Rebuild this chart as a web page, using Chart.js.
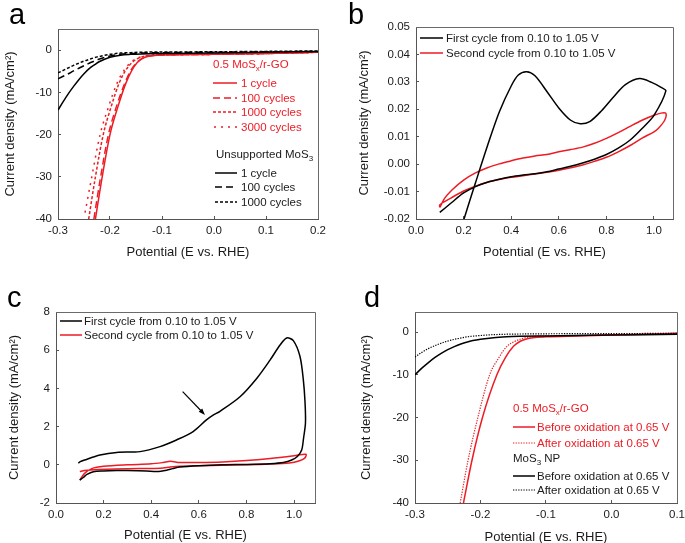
<!DOCTYPE html>
<html><head><meta charset="utf-8">
<script src="https://cdn.jsdelivr.net/npm/chart.js@4.4.1/dist/chart.umd.min.js"></script>
<style>
html,body{margin:0;padding:0;width:685px;height:543px;overflow:hidden;background:#fff;font-family:"Liberation Sans",Arial,Helvetica,sans-serif;position:relative}
canvas{position:absolute}
.pl{position:absolute;font-size:29px;line-height:29px;color:#000}
.lg{position:absolute;font-size:11.5px;line-height:14px;white-space:nowrap;color:#1a1a1a}
.r{color:#ED1C24}
.lg sub{font-size:8px;vertical-align:-3px;line-height:0}
svg{position:absolute;overflow:visible}
</style></head><body>
<canvas id="ca" width="340" height="270" style="left:0;top:0"></canvas>
<canvas id="cb" width="345" height="270" style="left:340px;top:0"></canvas>
<canvas id="cc" width="340" height="270" style="left:0;top:275px"></canvas>
<canvas id="cd" width="370" height="270" style="left:340px;top:275px"></canvas>

<div class="pl" style="left:9px;top:0px">a</div>
<div class="pl" style="left:348px;top:0px">b</div>
<div class="pl" style="left:7px;top:283px">c</div>
<div class="pl" style="left:364px;top:283px">d</div>

<!-- legend a -->
<div class="lg r" style="left:213px;top:57px">0.5 MoS<sub>x</sub>/r-GO</div>
<svg style="left:213px;top:83px" width="24" height="1"><line x1="0" y1="0" x2="24" y2="0" stroke="#ED1C24" stroke-width="1.5"/></svg>
<div class="lg r" style="left:241px;top:76px">1 cycle</div>
<svg style="left:213px;top:98px" width="24" height="1"><line x1="0" y1="0" x2="24" y2="0" stroke="#ED1C24" stroke-width="1.5" stroke-dasharray="7 4"/></svg>
<div class="lg r" style="left:241px;top:91px">100 cycles</div>
<svg style="left:213px;top:112px" width="24" height="1"><line x1="0" y1="0" x2="24" y2="0" stroke="#ED1C24" stroke-width="1.5" stroke-dasharray="3 2"/></svg>
<div class="lg r" style="left:241px;top:105px">1000 cycles</div>
<svg style="left:213px;top:127px" width="24" height="1"><line x1="1" y1="0" x2="24" y2="0" stroke="#ED1C24" stroke-width="1.5" stroke-dasharray="2 5"/></svg>
<div class="lg r" style="left:241px;top:120px">3000 cycles</div>
<div class="lg" style="left:216px;top:147px">Unsupported MoS<sub>3</sub></div>
<svg style="left:215px;top:173px" width="22" height="1"><line x1="0" y1="0" x2="22" y2="0" stroke="#000" stroke-width="1.5"/></svg>
<div class="lg" style="left:241px;top:166px">1 cycle</div>
<svg style="left:215px;top:187px" width="22" height="1"><line x1="0" y1="0" x2="22" y2="0" stroke="#000" stroke-width="1.5" stroke-dasharray="7 4"/></svg>
<div class="lg" style="left:241px;top:180px">100 cycles</div>
<svg style="left:215px;top:202px" width="22" height="1"><line x1="0" y1="0" x2="22" y2="0" stroke="#000" stroke-width="1.5" stroke-dasharray="3 2"/></svg>
<div class="lg" style="left:241px;top:195px">1000 cycles</div>

<!-- legend b -->
<svg style="left:420px;top:38px" width="23" height="1"><line x1="0" y1="0" x2="23" y2="0" stroke="#000" stroke-width="1.5"/></svg>
<div class="lg" style="left:446px;top:31px">First cycle from 0.10 to 1.05 V</div>
<svg style="left:420px;top:53px" width="23" height="1"><line x1="0" y1="0" x2="23" y2="0" stroke="#ED1C24" stroke-width="1.5"/></svg>
<div class="lg" style="left:446px;top:46px">Second cycle from 0.10 to 1.05 V</div>

<!-- legend c -->
<svg style="left:60px;top:321px" width="22" height="1"><line x1="0" y1="0" x2="22" y2="0" stroke="#000" stroke-width="1.5"/></svg>
<div class="lg" style="left:84px;top:314px">First cycle from 0.10 to 1.05 V</div>
<svg style="left:60px;top:335px" width="22" height="1"><line x1="0" y1="0" x2="22" y2="0" stroke="#ED1C24" stroke-width="1.5"/></svg>
<div class="lg" style="left:84px;top:328px">Second cycle from 0.10 to 1.05 V</div>

<!-- legend d -->
<div class="lg r" style="left:513px;top:401px">0.5 MoS<sub>x</sub>/r-GO</div>
<svg style="left:513px;top:427px" width="22" height="1"><line x1="0" y1="0" x2="22" y2="0" stroke="#ED1C24" stroke-width="1.5"/></svg>
<div class="lg r" style="left:537px;top:420px">Before oxidation at 0.65 V</div>
<svg style="left:513px;top:443px" width="22" height="1"><line x1="0" y1="0" x2="22" y2="0" stroke="#ED1C24" stroke-width="1.2" stroke-dasharray="1.3 1.3"/></svg>
<div class="lg r" style="left:537px;top:436px">After oxidation at 0.65 V</div>
<div class="lg" style="left:513px;top:451px">MoS<sub>3</sub> NP</div>
<svg style="left:513px;top:476px" width="22" height="1"><line x1="0" y1="0" x2="22" y2="0" stroke="#000" stroke-width="1.5"/></svg>
<div class="lg" style="left:537px;top:469px">Before oxidation at 0.65 V</div>
<svg style="left:513px;top:490px" width="22" height="1"><line x1="0" y1="0" x2="22" y2="0" stroke="#000" stroke-width="1.2" stroke-dasharray="1.3 1.3"/></svg>
<div class="lg" style="left:537px;top:483px">After oxidation at 0.65 V</div>

<script>
// ---------------- DATA ----------------
// Panel a: LSV, MoSx/r-GO (red) and unsupported MoS3 (black)
const aTicksX = [-0.3, -0.2, -0.1, 0.0, 0.1, 0.2];
const aTicksY = [-40, -30, -20, -10, 0];
const aRed1X    = [-0.228,-0.215,-0.2,-0.185,-0.17,-0.158,-0.148,-0.138,-0.128,-0.115,-0.1,0,0.1,0.2];
const aRed1Y    = [-40,-30,-20,-13.5,-8,-4.8,-3.0,-2.0,-1.5,-1.25,-1.15,-1.0,-0.8,-0.5];
const aRed100X  = [-0.231,-0.218,-0.203,-0.188,-0.172,-0.16,-0.149,-0.139,-0.129,-0.115,-0.1,0,0.1,0.2];
const aRed100Y  = [-40,-30,-20,-13.5,-8,-4.8,-3.0,-2.0,-1.5,-1.25,-1.15,-1.0,-0.8,-0.5];
const aRed1000X = [-0.241,-0.228,-0.213,-0.198,-0.183,-0.17,-0.158,-0.147,-0.136,-0.12,-0.1,0,0.1,0.2];
const aRed1000Y = [-40,-30,-20,-13.5,-8,-4.8,-3.0,-2.0,-1.5,-1.25,-1.15,-1.0,-0.8,-0.5];
const aRed3000X = [-0.248,-0.235,-0.219,-0.203,-0.187,-0.173,-0.161,-0.149,-0.137,-0.12,-0.1,0,0.1,0.2];
const aRed3000Y = [-38.5,-30,-20,-13.5,-8,-4.8,-3.0,-2.0,-1.5,-1.25,-1.15,-1.0,-0.8,-0.5];
const aBlkX     = [-0.3,-0.29,-0.28,-0.27,-0.26,-0.25,-0.24,-0.23,-0.22,-0.2,-0.18,-0.16,-0.14,-0.1,0,0.1,0.2];
const aBlk1Y    = [-14.2,-12.2,-10.3,-8.6,-7.0,-5.6,-4.4,-3.5,-2.7,-1.7,-1.2,-1.0,-0.9,-0.8,-0.7,-0.5,-0.3];
const aBlk100Y  = [-6.8,-6.2,-5.6,-4.9,-4.3,-3.7,-3.1,-2.6,-2.1,-1.4,-1.0,-0.8,-0.7,-0.6,-0.5,-0.4,-0.3];
const aBlk1000Y = [-5.4,-4.8,-4.2,-3.6,-3.1,-2.6,-2.2,-1.8,-1.5,-1.0,-0.7,-0.6,-0.5,-0.45,-0.4,-0.3,-0.2];

// Panel b: CV of MoSx/r-GO, first (black) and second (red) cycle
const bTicksX = [0.0, 0.2, 0.4, 0.6, 0.8, 1.0];
const bTicksY = [-0.02, -0.01, 0.0, 0.01, 0.02, 0.03, 0.04, 0.05];
const bFirstX = [0.185,0.2,0.25,0.3,0.35,0.4,0.43,0.465,0.5,0.55,0.6,0.65,0.69,0.73,0.78,0.83,0.88,0.94,0.99,1.03,1.05,
                 1.0,0.95,0.9,0.85,0.8,0.75,0.7,0.65,0.6,0.55,0.5,0.45,0.4,0.35,0.3,0.25,0.2,0.15,0.1];
const bFirstY = [-0.025,-0.0205,-0.0068,0.0066,0.019,0.0285,0.0325,0.0337,0.0322,0.0265,0.0205,0.016,0.0147,0.0155,0.0195,0.0245,0.029,0.0312,0.0298,0.028,0.0267,
                 0.0178,0.013,0.0088,0.0058,0.0035,0.0018,0.0004,-0.0008,-0.0018,-0.0028,-0.0035,-0.004,-0.0046,-0.0055,-0.0066,-0.0082,-0.0105,-0.014,-0.0176];
const bSecondX = [0.1,0.12,0.15,0.2,0.25,0.3,0.35,0.4,0.45,0.5,0.55,0.6,0.65,0.7,0.75,0.8,0.85,0.9,0.95,1.0,1.03,1.05,
                  1.045,1.02,1.0,0.95,0.9,0.85,0.8,0.75,0.7,0.65,0.6,0.55,0.5,0.45,0.4,0.35,0.3,0.25,0.2,0.15,0.1,0.1];
const bSecondY = [-0.0158,-0.0125,-0.0095,-0.0058,-0.0032,-0.0013,0.0001,0.0012,0.0022,0.003,0.0035,0.0045,0.0053,0.0062,0.0076,0.0094,0.0115,0.0138,0.016,0.0178,0.0186,0.0185,
                  0.016,0.0132,0.0118,0.0095,0.0068,0.0045,0.0025,0.001,-0.0003,-0.0013,-0.0022,-0.003,-0.0036,-0.0042,-0.0048,-0.0056,-0.0066,-0.008,-0.0098,-0.0122,-0.0148,-0.0158];

// Panel c: CV of unsupported MoS3
const cTicksX = [0.0, 0.2, 0.4, 0.6, 0.8, 1.0];
const cTicksY = [-2, 0, 2, 4, 6, 8];
const cFirstX = [0.094,0.1,0.12,0.185,0.255,0.353,0.437,0.506,0.576,0.632,0.66,0.689,0.773,0.843,0.899,0.941,0.969,0.997,1.025,1.039,1.046,
                 1.048,1.04,1.032,1.015,0.99,0.955,0.9,0.8,0.7,0.6,0.52,0.49,0.465,0.423,0.38,0.3,0.255,0.2,0.157,0.13,0.116,0.1];
const cFirstY = [0.08,0.15,0.25,0.51,0.65,0.69,0.95,1.3,1.74,2.35,2.6,2.8,3.56,4.52,5.48,6.27,6.64,6.5,5.67,4.45,3.3,
                 2.2,1.4,0.77,0.45,0.25,0.12,0.06,0.02,0.0,-0.05,-0.12,-0.2,-0.28,-0.35,-0.32,-0.3,-0.3,-0.32,-0.36,-0.5,-0.65,-0.8];
const cSecondX = [0.1,0.12,0.15,0.2,0.3,0.4,0.45,0.48,0.52,0.6,0.7,0.8,0.9,1.0,1.05,
                  1.045,1.02,0.98,0.9,0.8,0.7,0.6,0.52,0.48,0.44,0.35,0.25,0.18,0.12,0.1];
const cSecondY = [-0.8,-0.45,-0.2,-0.08,0.0,0.05,0.12,0.18,0.12,0.12,0.15,0.22,0.33,0.47,0.55,
                  0.35,0.2,0.1,0.04,0.0,-0.02,-0.05,-0.08,-0.12,-0.18,-0.2,-0.22,-0.25,-0.3,-0.35];
const cArrowFrom = [0.532, 3.83];
const cArrowTo   = [0.626, 2.61];

// Panel d: LSV before/after oxidation at 0.65 V
const dTicksX = [-0.3, -0.2, -0.1, 0.0, 0.1];
const dTicksY = [-40, -30, -20, -10, 0];
const dRedBeforeX = [-0.226,-0.213,-0.197,-0.175,-0.162,-0.15,-0.14,-0.13,-0.12,-0.1,-0.05,0,0.05,0.1];
const dRedBeforeY = [-40,-30,-20,-10,-6,-3.4,-2.2,-1.6,-1.3,-1.1,-0.9,-0.7,-0.5,-0.3];
const dRedAfterX  = [-0.231,-0.219,-0.204,-0.186,-0.172,-0.16,-0.148,-0.136,-0.124,-0.1,-0.05,0,0.05,0.1];
const dRedAfterY  = [-40,-30,-20,-10,-6,-3.4,-2.2,-1.5,-1.1,-0.9,-0.8,-0.6,-0.45,-0.3];
const dBlkX       = [-0.3,-0.29,-0.28,-0.27,-0.26,-0.25,-0.24,-0.23,-0.22,-0.2,-0.18,-0.16,-0.14,-0.1,0,0.1];
const dBlkBeforeY = [-10,-8.5,-7.2,-6.0,-5.0,-4.1,-3.4,-2.8,-2.3,-1.7,-1.3,-1.1,-1.0,-0.9,-0.7,-0.5];
const dBlkAfterY  = [-5.85,-4.8,-3.9,-3.2,-2.6,-2.1,-1.7,-1.4,-1.1,-0.8,-0.6,-0.5,-0.45,-0.4,-0.35,-0.3];

// ---------------- RENDER ----------------
const RED = '#ED1C24', BLK = '#000000', AX = '#555555', TXT = '#1a1a1a';
const FAM = '"Liberation Sans", Arial, Helvetica, sans-serif';
const pts = (xs, ys) => xs.map((x, i) => ({x, y: ys[i]}));
function ds(xs, ys, color, dash, mono, w) {
  return {data: pts(xs, ys), borderColor: color, borderWidth: w || 1.5, borderDash: dash || [],
          showLine: true, pointRadius: 0, fill: false,
          tension: mono ? 0 : 0.3, cubicInterpolationMode: mono ? 'monotone' : 'default'};
}
const frame = {id: 'frame', afterDraw(c) {
  const a = c.chartArea, g = c.ctx; g.save(); g.strokeStyle = '#6a6a6a'; g.lineWidth = 1;
  g.beginPath(); g.moveTo(a.left, a.top + 0.5); g.lineTo(a.right + 0.5, a.top + 0.5); g.lineTo(a.right + 0.5, a.bottom);
  g.stroke(); g.restore();
}};
function panel(id, o) {
  const W = o.cw, H = o.ch;
  return new Chart(document.getElementById(id), {
    type: 'scatter',
    data: {datasets: o.datasets},
    options: {
      responsive: false, animation: false, devicePixelRatio: 1,
      layout: {padding: {left: 0, top: o.t, right: W - o.r, bottom: 0}},
      plugins: {legend: {display: false}, tooltip: {enabled: false}},
      scales: {
        x: {type: 'linear', position: 'bottom', min: o.xmin, max: o.xmax,
            afterBuildTicks: s => { s.ticks = o.xt.map(v => ({value: v})); },
            afterFit: s => { s.height = H - o.b; },
            ticks: {callback: o.xf, padding: 8, color: TXT, font: {size: 11.5, family: FAM}, maxRotation: 0, autoSkip: false},
            grid: {drawOnChartArea: false, tickLength: -3, color: AX, lineWidth: 1},
            border: {color: AX, width: 1},
            title: {display: true, text: 'Potential (E vs. RHE)', color: TXT, font: {size: 13, family: FAM}, padding: {top: 0, bottom: o.xtp}}},
        y: {type: 'linear', position: 'left', min: o.ymin, max: o.ymax,
            afterBuildTicks: s => { s.ticks = o.yt.map(v => ({value: v})); },
            afterFit: s => { s.width = o.l; },
            ticks: {callback: o.yf, padding: 9, color: TXT, font: {size: 11.5, family: FAM}, autoSkip: false},
            grid: {drawOnChartArea: false, tickLength: -3, color: AX, lineWidth: 1},
            border: {color: AX, width: 1},
            title: {display: true, text: 'Current density (mA/cm²)', color: TXT, font: {size: 13, family: FAM}, padding: {top: o.ytp, bottom: 0}}}
      }
    },
    plugins: [frame].concat(o.plugins || [])
  });
}

panel('ca', {cw: 340, ch: 270, l: 58, t: 29, r: 318, b: 219, xtp: 10, ytp: 3,
  xmin: -0.3, xmax: 0.2, ymin: -40, ymax: 5, xt: aTicksX, yt: aTicksY,
  xf: v => v.toFixed(1), yf: v => String(v),
  datasets: [
    ds(aBlkX, aBlk1000Y, BLK, [3, 2], true),
    ds(aBlkX, aBlk100Y, BLK, [7, 4], true),
    ds(aBlkX, aBlk1Y, BLK, [], true),
    ds(aRed3000X, aRed3000Y, RED, [2, 5], true),
    ds(aRed1000X, aRed1000Y, RED, [3, 2], true),
    ds(aRed100X, aRed100Y, RED, [7, 4], true),
    ds(aRed1X, aRed1Y, RED, [], true)
  ]});

panel('cb', {cw: 345, ch: 270, l: 76, t: 27, r: 333, b: 219, xtp: 10, ytp: 17,
  xmin: 0, xmax: 1.08, ymin: -0.02, ymax: 0.05, xt: bTicksX, yt: bTicksY,
  xf: v => v.toFixed(1), yf: v => v.toFixed(2),
  datasets: [ds(bFirstX, bFirstY, BLK, [], false), ds(bSecondX, bSecondY, RED, [], false)]});

const arrow = {id: 'arrow', afterDatasetsDraw(c) {
  const sx = c.scales.x, sy = c.scales.y, g = c.ctx;
  const x1 = sx.getPixelForValue(cArrowFrom[0]), y1 = sy.getPixelForValue(cArrowFrom[1]);
  const x2 = sx.getPixelForValue(cArrowTo[0]), y2 = sy.getPixelForValue(cArrowTo[1]);
  const ang = Math.atan2(y2 - y1, x2 - x1), hl = 7;
  g.save(); g.strokeStyle = '#000'; g.fillStyle = '#000'; g.lineWidth = 1.2;
  g.beginPath(); g.moveTo(x1, y1); g.lineTo(x2 - 3 * Math.cos(ang), y2 - 3 * Math.sin(ang)); g.stroke();
  g.beginPath(); g.moveTo(x2, y2);
  g.lineTo(x2 - hl * Math.cos(ang - 0.35), y2 - hl * Math.sin(ang - 0.35));
  g.lineTo(x2 - hl * Math.cos(ang + 0.35), y2 - hl * Math.sin(ang + 0.35));
  g.closePath(); g.fill(); g.restore();
}};
panel('cc', {cw: 340, ch: 270, l: 56, t: 37, r: 315, b: 228, xtp: 2, ytp: 7,
  xmin: 0, xmax: 1.088, ymin: -2, ymax: 8, xt: cTicksX, yt: cTicksY,
  xf: v => v.toFixed(1), yf: v => String(v), plugins: [arrow],
  datasets: [ds(cFirstX, cFirstY, BLK, [], false), ds(cSecondX, cSecondY, RED, [], false)]});

panel('cd', {cw: 370, ch: 270, l: 75, t: 37, r: 337, b: 228, xtp: 0, ytp: 19,
  xmin: -0.3, xmax: 0.1, ymin: -40, ymax: 4.7, xt: dTicksX, yt: dTicksY,
  xf: v => v.toFixed(1), yf: v => String(v),
  datasets: [
    ds(dBlkX, dBlkAfterY, BLK, [1.3, 1.3], true, 1.2),
    ds(dBlkX, dBlkBeforeY, BLK, [], true),
    ds(dRedAfterX, dRedAfterY, RED, [1.3, 1.3], true, 1.2),
    ds(dRedBeforeX, dRedBeforeY, RED, [], true)
  ]});
</script>
</body></html>
